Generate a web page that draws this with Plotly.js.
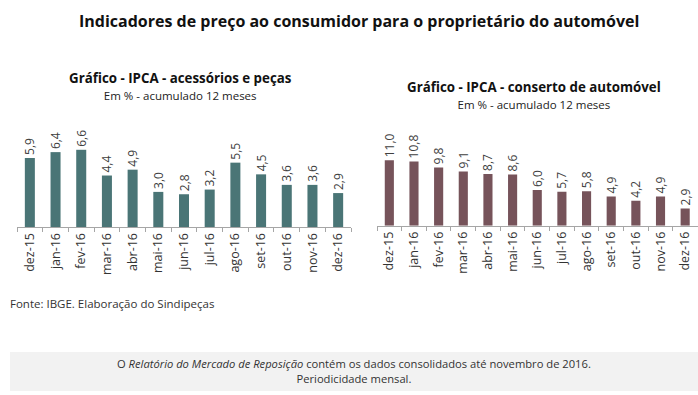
<!DOCTYPE html>
<html>
<head>
<meta charset="utf-8">
<script src="https://cdn.plot.ly/plotly-3.0.1.min.js"></script>
<style>html,body{margin:0;padding:0;background:#fff;}#chart{width:698px;height:395px;}</style>
</head>
<body>
<div id="chart"></div>
<script>
const months = ["dez-15","jan-16","fev-16","mar-16","abr-16","mai-16","jun-16","jul-16","ago-16","set-16","out-16","nov-16","dez-16"];
const acessoriosPecas = [5.9, 6.4, 6.6, 4.4, 4.9, 3.0, 2.8, 3.2, 5.5, 4.5, 3.6, 3.6, 2.9];
const consertoAutomovel = [11.0, 10.8, 9.8, 9.1, 8.7, 8.6, 6.0, 5.7, 5.8, 4.9, 4.2, 4.9, 2.9];

const fmt = v => v.toFixed(1).replace('.', ',');
const FONT = "'Open Sans', Lato, sans-serif";
const valueFont = {family: FONT, size: 12, color: '#404040'};
const tickFont = {family: FONT, size: 12.5, color: '#333333'};

const traces = [
  {type: 'bar', x: months, y: acessoriosPecas, xaxis: 'x', yaxis: 'y',
   marker: {color: '#4a7576'}, width: 0.39,
   text: acessoriosPecas.map(fmt), textposition: 'outside', textangle: -90,
   textfont: valueFont, constraintext: 'none', cliponaxis: false, hoverinfo: 'none'},
  {type: 'bar', x: months, y: consertoAutomovel, xaxis: 'x2', yaxis: 'y2',
   marker: {color: '#76535a'}, width: 0.37,
   text: consertoAutomovel.map(fmt), textposition: 'outside', textangle: -90,
   textfont: valueFont, constraintext: 'none', cliponaxis: false, hoverinfo: 'none'}
];

const xCommon = {type: 'category', showline: true, linecolor: '#a6a6a6', linewidth: 1,
  ticks: 'outside', tickson: 'boundaries', ticklen: 4, tickcolor: '#a6a6a6',
  tickangle: -90, tickfont: tickFont, showgrid: false, zeroline: false, fixedrange: true};
const yCommon = {visible: false, showgrid: false, zeroline: false, fixedrange: true};

const sub = t => '<b>' + t + '</b><br><span style="font-size:11.5px;color:#222">Em % - acumulado 12 meses</span>';

const layout = {
  width: 698, height: 395,
  margin: {l: 0, r: 0, t: 0, b: 0},
  paper_bgcolor: '#ffffff', plot_bgcolor: 'rgba(0,0,0,0)',
  showlegend: false,
  xaxis: Object.assign({}, xCommon, {domain: [17/698, 351/698], anchor: 'y'}),
  yaxis: Object.assign({}, yCommon, {domain: [168/395, 255/395], range: [0, 87/11.7], anchor: 'x'}),
  xaxis2: Object.assign({}, xCommon, {domain: [377/698, 697.5/698], anchor: 'y2'}),
  yaxis2: Object.assign({}, yCommon, {domain: [169.3/395, 255/395], range: [0, 85.7/5.95], anchor: 'x2'}),
  shapes: [
    {type: 'rect', xref: 'paper', yref: 'paper', x0: 10/698, x1: 1, y0: (395-391)/395, y1: (395-352)/395,
     fillcolor: '#f2f2f2', line: {width: 0}, layer: 'below'}
  ],
  annotations: [
    {text: '<b>Indicadores de preço ao consumidor para o proprietário do automóvel</b>', xref: 'paper', yref: 'paper',
     x: 359/698, y: (395-21)/395, showarrow: false, xanchor: 'center', yanchor: 'middle',
     font: {family: FONT, size: 16, color: '#111'}},
    {text: sub('Gráfico - IPCA - acessórios e peças'), xref: 'paper', yref: 'paper',
     x: 180/698, y: (395-86)/395, showarrow: false, xanchor: 'center', yanchor: 'middle', align: 'center',
     font: {family: FONT, size: 13.3, color: '#111'}},
    {text: sub('Gráfico - IPCA - conserto de automóvel'), xref: 'paper', yref: 'paper',
     x: 534/698, y: (395-95)/395, showarrow: false, xanchor: 'center', yanchor: 'middle', align: 'center',
     font: {family: FONT, size: 13.3, color: '#111'}},
    {text: 'Fonte: IBGE. Elaboração do Sindipeças', xref: 'paper', yref: 'paper',
     x: 8/698, y: (395-303)/395, showarrow: false, xanchor: 'left', yanchor: 'middle',
     font: {family: FONT, size: 11.5, color: '#333'}},
    {text: 'O <i>Relatório do Mercado de Reposição</i> contém os dados consolidados até novembro de 2016.<br>Periodicidade mensal.',
     xref: 'paper', yref: 'paper', x: 354/698, y: (395-371)/395, showarrow: false, xanchor: 'center', yanchor: 'middle',
     align: 'center', font: {family: FONT, size: 11.2, color: '#333'}}
  ]
};

Plotly.newPlot('chart', traces, layout, {displayModeBar: false, staticPlot: true});
</script>
</body>
</html>
